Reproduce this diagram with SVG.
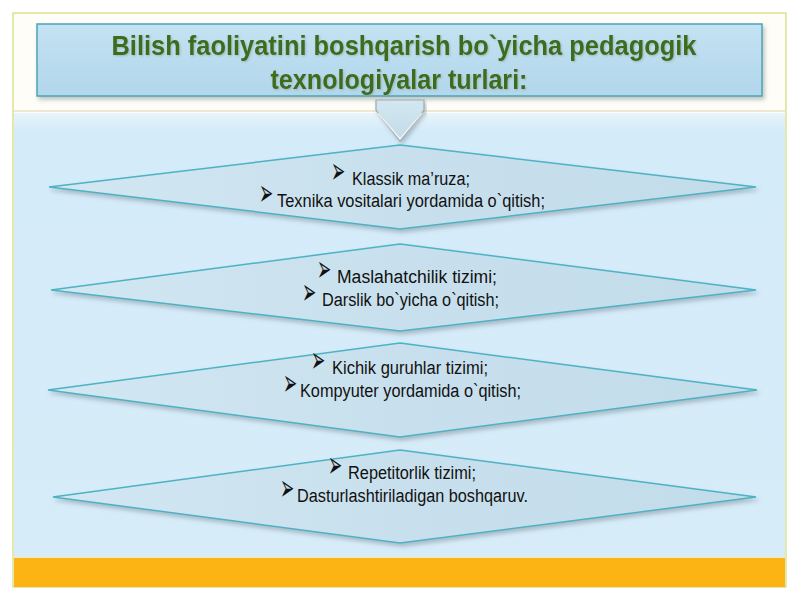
<svg xmlns="http://www.w3.org/2000/svg" width="800" height="600" viewBox="0 0 800 600">
<defs>
<linearGradient id="bg" x1="0" y1="0" x2="0" y2="1">
<stop offset="0" stop-color="#e8f4fb"/>
<stop offset="0.04" stop-color="#d4ebf9"/>
<stop offset="1" stop-color="#d7ecf9"/>
</linearGradient>
<linearGradient id="titleFill" x1="0" y1="0" x2="0" y2="1">
<stop offset="0" stop-color="#c4e2f3"/>
<stop offset="1" stop-color="#b2d6eb"/>
</linearGradient>
<linearGradient id="dia" x1="0" y1="0" x2="1" y2="0">
<stop offset="0" stop-color="#d2e7f2"/>
<stop offset="0.5" stop-color="#c8e0ed"/>
<stop offset="1" stop-color="#c3dcea"/>
</linearGradient>
<linearGradient id="arrowFill" x1="0" y1="0" x2="0" y2="1">
<stop offset="0" stop-color="#d3e7f1"/>
<stop offset="1" stop-color="#c2dbe8"/>
</linearGradient>
<filter id="shadow" x="-5%" y="-20%" width="110%" height="150%">
<feDropShadow dx="2" dy="3" stdDeviation="2" flood-color="#6f7f88" flood-opacity="0.45"/>
</filter>
<filter id="tshadow" x="-5%" y="-20%" width="110%" height="150%">
<feDropShadow dx="1" dy="1" stdDeviation="0.8" flood-color="#8aa08a" flood-opacity="0.6"/>
</filter>
</defs>
<style>
.title{font-family:"Liberation Sans Narrow","Liberation Sans",Arial,sans-serif;font-weight:bold;font-size:28px;fill:#3d6d1d;}
.item{font-family:"Liberation Sans Narrow","Liberation Sans",Arial,sans-serif;font-size:18px;fill:#111111;}
.bul{font-family:"DejaVu Sans",sans-serif;font-size:20px;fill:#111111;}
.dia{fill:url(#dia);stroke:#4eb2c4;stroke-width:1.5;filter:url(#shadow);}
</style>
<rect x="0" y="0" width="800" height="600" fill="#ffffff"/>
<!-- frame -->
<rect x="13" y="13" width="773" height="574" fill="#fefdf7" stroke="#c9d35c" stroke-width="1"/>
<line x1="14" y1="111" x2="785" y2="111" stroke="#e9dfc4" stroke-width="1.5"/>
<rect x="14" y="113" width="771" height="444" fill="url(#bg)"/>
<rect x="14" y="557" width="771" height="30" fill="#fbb413"/>
<line x1="14" y1="557.5" x2="785" y2="557.5" stroke="#f6e6a8" stroke-width="1"/>

<g id="title">
<rect x="37" y="24" width="725" height="72" fill="url(#titleFill)" stroke="#4aa5b5" stroke-width="1.5" filter="url(#shadow)"/>
<g filter="url(#tshadow)">
<text class="title" x="404" y="55" text-anchor="middle" textLength="585" lengthAdjust="spacingAndGlyphs">Bilish faoliyatini boshqarish bo`yicha pedagogik</text>
<text class="title" x="399" y="89" text-anchor="middle" textLength="257" lengthAdjust="spacingAndGlyphs">texnologiyalar turlari:</text>
</g>
</g>

<g id="connectors">
<path d="M376,100 L424,100 L424,110 L400,141 L376,110 Z" fill="url(#arrowFill)" stroke="#9aa9b0" stroke-width="1.2" filter="url(#shadow)"/>
<path d="M378,113 L400,139 L422,113" fill="none" stroke="#ffffff" stroke-width="1.2" opacity="0.8"/>
</g>

<g id="node1">
<polygon class="dia" points="400,145 756,187 400,229 49,187"/>
<text class="bul" transform="translate(331,183) scale(0.85,1.8)">➢</text>
<text class="item" x="352" y="185" textLength="118" lengthAdjust="spacingAndGlyphs">Klassik ma’ruza;</text>
<text class="bul" transform="translate(259,205) scale(0.85,1.8)">➢</text>
<text class="item" x="277" y="207" textLength="268" lengthAdjust="spacingAndGlyphs">Texnika vositalari yordamida o`qitish;</text>
</g>

<g id="node2">
<polygon class="dia" points="400,244 756,290 400,331 51,290"/>
<text class="bul" transform="translate(317,281) scale(0.85,1.8)">➢</text>
<text class="item" x="337" y="283" textLength="160" lengthAdjust="spacingAndGlyphs">Maslahatchilik tizimi;</text>
<text class="bul" transform="translate(302,304) scale(0.85,1.8)">➢</text>
<text class="item" x="322" y="306" textLength="177" lengthAdjust="spacingAndGlyphs">Darslik bo`yicha o`qitish;</text>
</g>

<g id="node3">
<polygon class="dia" points="400,343 757,390 400,437 48,390"/>
<text class="bul" transform="translate(311,372) scale(0.85,1.8)">➢</text>
<text class="item" x="332" y="374" textLength="156" lengthAdjust="spacingAndGlyphs">Kichik guruhlar tizimi;</text>
<text class="bul" transform="translate(283,395) scale(0.85,1.8)">➢</text>
<text class="item" x="300" y="397" textLength="221" lengthAdjust="spacingAndGlyphs">Kompyuter yordamida o`qitish;</text>
</g>

<g id="node4">
<polygon class="dia" points="400,450 756,497 400,543 53,497"/>
<text class="bul" transform="translate(328,477) scale(0.85,1.8)">➢</text>
<text class="item" x="348" y="479" textLength="128" lengthAdjust="spacingAndGlyphs">Repetitorlik tizimi;</text>
<text class="bul" transform="translate(280,500) scale(0.85,1.8)">➢</text>
<text class="item" x="297" y="502" textLength="231" lengthAdjust="spacingAndGlyphs">Dasturlashtiriladigan boshqaruv.</text>
</g>
</svg>
